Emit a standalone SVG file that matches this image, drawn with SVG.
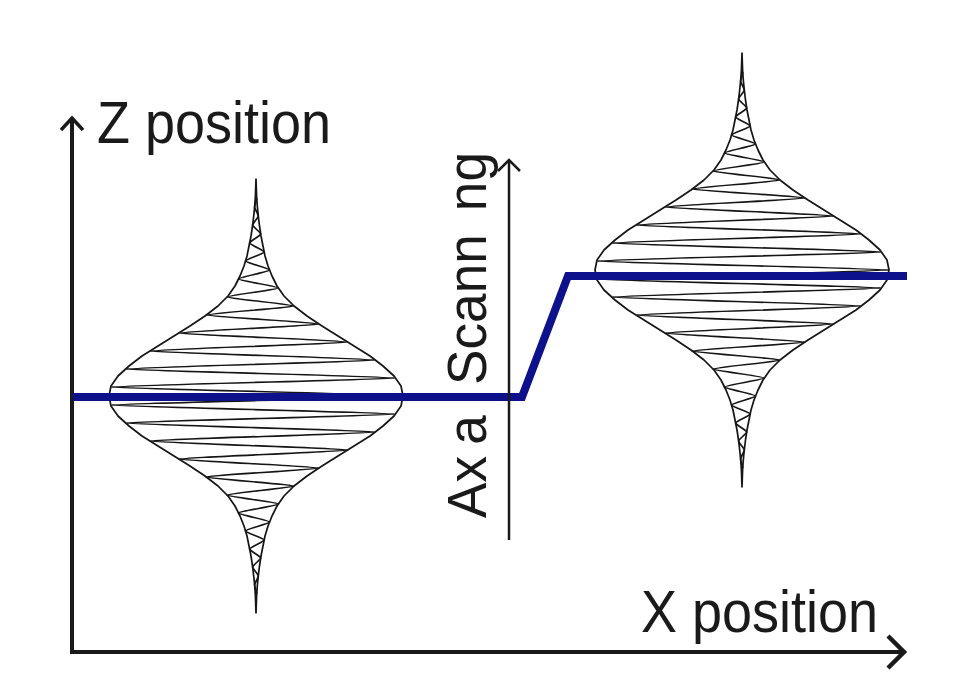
<svg xmlns="http://www.w3.org/2000/svg" width="976" height="686" viewBox="0 0 976 686">
<style>
.lbl{font-family:"Liberation Sans",Arial,Helvetica,sans-serif;fill:#1a1a1a}
.sp{fill:none;stroke:#151515;stroke-width:1.7;stroke-linejoin:round}
.ax{fill:none;stroke:#1a1a1a}
.scan{fill:none;stroke:#0d128c;stroke-width:8;stroke-linejoin:miter}
</style>
<defs>
<g id="spiral">
<path class="sp" d="M0,-217 L0.6,-200 L1.3,-190 L2.3,-180 L3.5,-170 L5,-160 L7,-150 L9,-140 L12,-130 L16,-120 L21,-110 L28,-100 L38,-90 L51,-80 L66,-70 L82,-60 L98,-50 L114,-40 L127,-30 L138,-20 L145,-10 L147,0 L145,10 L138,20 L127,30 L114,40 L98,50 L82,60 L66,70 L51,80 L38,90 L28,100 L21,110 L16,120 L12,130 L9,140 L7,150 L5,160 L3.5,170 L2.3,180 L1.3,190 L0.6,200 L0,217 L-0.6,200 L-1.3,190 L-2.3,180 L-3.5,170 L-5,160 L-7,150 L-9,140 L-12,130 L-16,120 L-21,110 L-28,100 L-38,90 L-51,80 L-66,70 L-82,60 L-98,50 L-114,40 L-127,30 L-138,20 L-145,10 L-147,0 L-145,-10 L-138,-20 L-127,-30 L-114,-40 L-98,-50 L-82,-60 L-66,-70 L-51,-80 L-38,-90 L-28,-100 L-21,-110 L-16,-120 L-12,-130 L-9,-140 L-7,-150 L-5,-160 L-3.5,-170 L-2.3,-180 L-1.3,-190 L-0.6,-200 Z"/>
<path class="sp" d="M0.7,-198 C0.7,-196.5 -1.4,-190.5 -1.4,-189 C-1.4,-187.5 2.3,-181.5 2.3,-180 C2.3,-178.5 -3.4,-172.5 -3.4,-171 C-3.4,-169.5 4.7,-163.5 4.7,-162 C4.7,-160.5 -6.4,-154.5 -6.4,-153 C-6.4,-151.5 8.2,-145.5 8.2,-144 C8.2,-142.5 -10.5,-136.5 -10.5,-135 C-10.5,-133.5 13.6,-127.5 13.6,-126 C13.6,-124.5 -17.5,-118.5 -17.5,-117 C-17.5,-115.5 22.4,-109.5 22.4,-108 C22.4,-106.5 -29,-100.5 -29,-99 C-29,-97.5 38,-91.5 38,-90 C38,-88.5 -50,-82.5 -50,-81 C-50,-79.5 63,-73.5 63,-72 C63,-70.5 -77,-64.5 -77,-63 C-77,-61.5 92,-55.5 92,-54 C92,-52.5 -106,-46.5 -106,-45 C-106,-43.5 119,-37.5 119,-36 C119,-34.5 -130,-28.5 -130,-27 C-130,-25.5 139,-19.5 139,-18 C139,-16.5 -145,-10.5 -145,-9 C-145,-7.5 147,-1.5 147,0 C147,1.5 -145,7.5 -145,9 C-145,10.5 139,16.5 139,18 C139,19.5 -130,25.5 -130,27 C-130,28.5 119,34.5 119,36 C119,37.5 -106,43.5 -106,45 C-106,46.5 92,52.5 92,54 C92,55.5 -77,61.5 -77,63 C-77,64.5 63,70.5 63,72 C63,73.5 -50,79.5 -50,81 C-50,82.5 38,88.5 38,90 C38,91.5 -29,97.5 -29,99 C-29,100.5 22.4,106.5 22.4,108 C22.4,109.5 -17.5,115.5 -17.5,117 C-17.5,118.5 13.6,124.5 13.6,126 C13.6,127.5 -10.5,133.5 -10.5,135 C-10.5,136.5 8.2,142.5 8.2,144 C8.2,145.5 -6.4,151.5 -6.4,153 C-6.4,154.5 4.7,160.5 4.7,162 C4.7,163.5 -3.4,169.5 -3.4,171 C-3.4,172.5 2.3,178.5 2.3,180 C2.3,181.5 -1.4,187.5 -1.4,189 C-1.4,190.5 0.7,196.5 0.7,198"/>
</g>
</defs>
<rect width="976" height="686" fill="#ffffff"/>
<g id="spiral-left" transform="translate(256,396)"><use href="#spiral"/></g>
<g id="spiral-right" transform="translate(742,270)"><use href="#spiral"/></g>
<g id="connectors">
<path class="ax" d="M72,119 L72,652 L902,652" stroke-width="4"/>
<path class="ax" d="M61,130 L72,118 L83,130" stroke-width="3.5"/>
<path class="ax" d="M888,636 L904,652 L888,668" stroke-width="4.5"/>
<path class="scan" d="M73,397 L522,397 L568,276 L907,276"/>
<path class="ax" d="M509,540 L509,161" stroke-width="2.5"/>
<path class="ax" d="M498,171 L509,160 L520,171" stroke-width="2.5"/>
</g>
<g id="labels">
<text class="lbl" font-size="60" transform="translate(97,143) scale(0.9,1)">Z position</text>
<text class="lbl" font-size="60" transform="translate(641,632) scale(0.9,1)">X position</text>
<text class="lbl" font-size="56" transform="translate(486,518) rotate(-90) scale(0.95,1)"><tspan x="0" y="0">Ax</tspan><tspan x="77" y="0">a</tspan><tspan x="140" y="0">Scann</tspan><tspan x="323" y="0">ng</tspan></text>
</g>
</svg>
